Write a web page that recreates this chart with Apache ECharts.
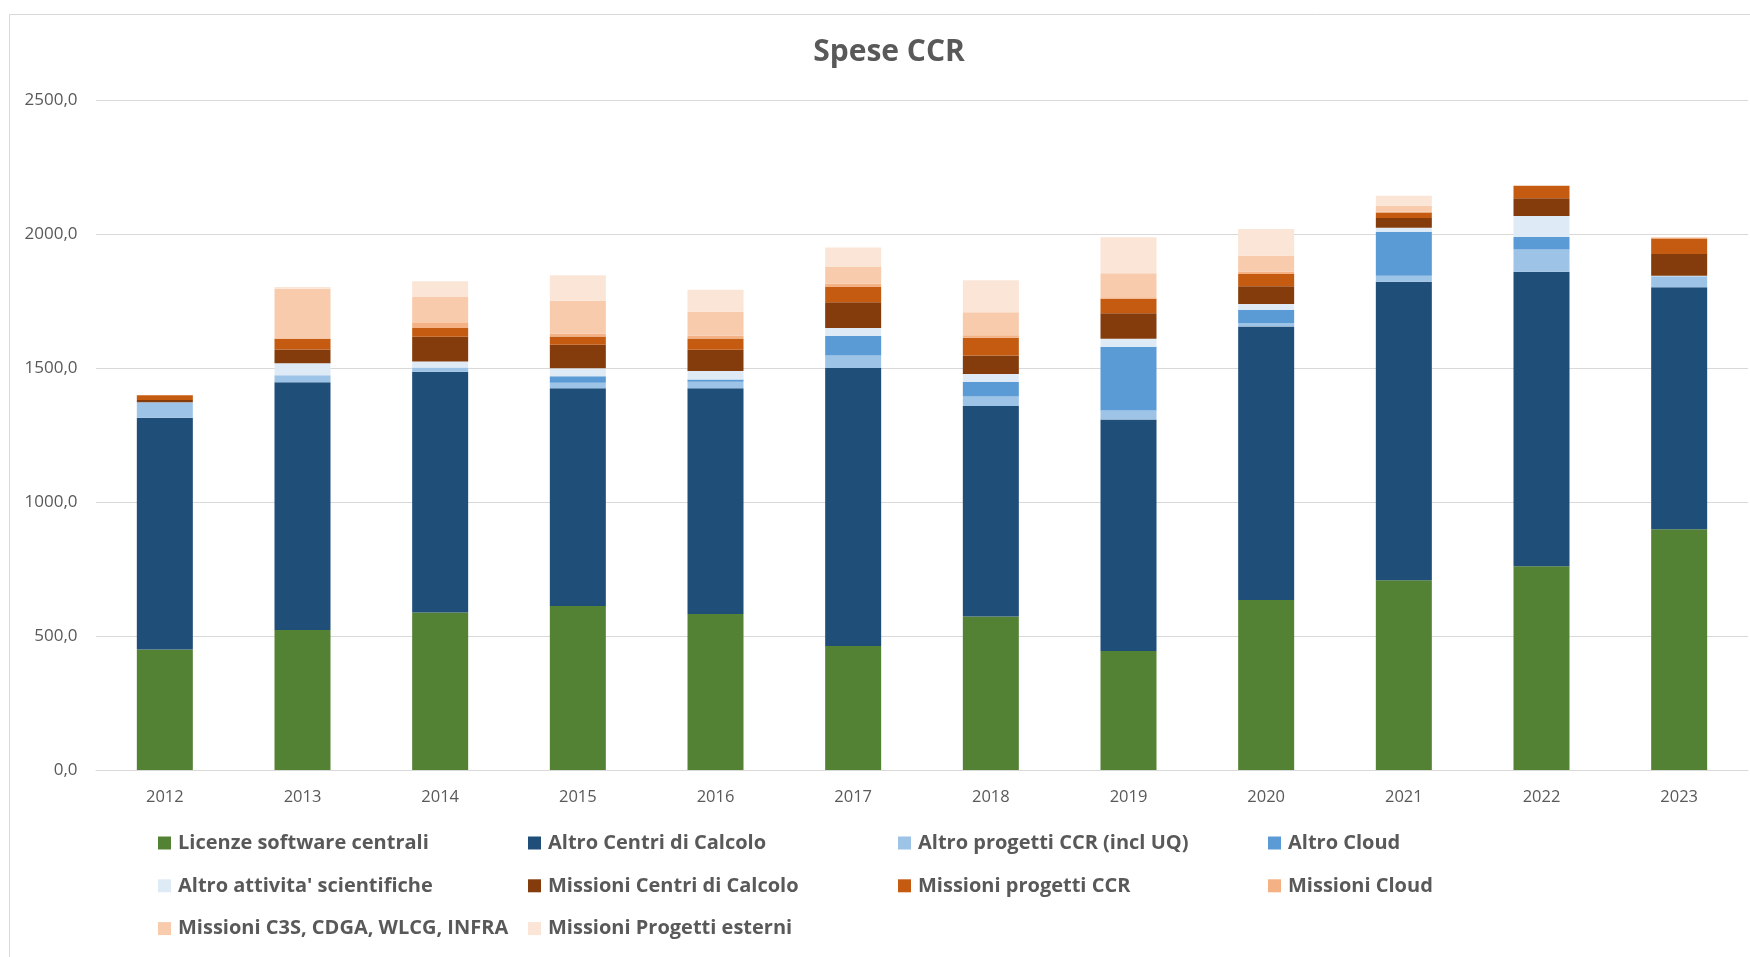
<!DOCTYPE html>
<html>
<head>
<meta charset="utf-8">
<script src="https://cdn.jsdelivr.net/npm/echarts@6/dist/echarts.min.js"></script>
<style>
html,body{margin:0;padding:0;background:#fff;}
#chart{width:1750px;height:957px;}
</style>
</head>
<body>
<div id="chart"></div>
<script>
const years = ['2012','2013','2014','2015','2016','2017','2018','2019','2020','2021','2022','2023'];
const licenze       = [450, 522, 588, 612, 582, 463, 573, 444, 634, 708, 760, 898];
const altroCentri   = [864, 925, 898, 812, 842, 1037, 785, 864, 1021, 1114, 1099, 903];
const altroProgetti = [58, 26, 16, 21, 25, 47, 36, 33, 12, 22, 83, 41];
const altroCloud    = [0, 0, 0, 24, 8, 72, 54, 238, 50, 164, 47, 0];
const altroAttivita = [0, 45, 22, 30, 32, 30, 30, 30, 22, 15, 78, 2];
const missCentri    = [9, 51, 93, 88, 79, 96, 69, 95, 66, 37, 66, 81];
const missProgetti  = [17, 40, 32, 31, 42, 57, 66, 54, 46, 20, 47, 58];
const missCloud     = [0, 2, 19, 10, 10, 12, 9, 6, 8, 4, 0, 4];
const missC3S       = [0, 185, 97, 123, 90, 65, 86, 90, 60, 21, 0, 0];
const missEsterni   = [0, 6, 59, 95, 82, 71, 119, 134, 100, 38, 0, 0];

const seriesDefs = [
  ['Licenze software centrali', licenze, '#548235'],
  ['Altro Centri di Calcolo', altroCentri, '#1F4E79'],
  ['Altro progetti CCR (incl UQ)', altroProgetti, '#9DC3E6'],
  ['Altro Cloud', altroCloud, '#5B9BD5'],
  ["Altro attivita' scientifiche", altroAttivita, '#DEEBF7'],
  ['Missioni Centri di Calcolo', missCentri, '#843C0C'],
  ['Missioni progetti CCR', missProgetti, '#C55A11'],
  ['Missioni Cloud', missCloud, '#F4B183'],
  ['Missioni C3S, CDGA, WLCG, INFRA', missC3S, '#F8CBAD'],
  ['Missioni Progetti esterni', missEsterni, '#FBE5D6']
];

const FONT = 'Open Sans, Liberation Sans, sans-serif';
const legendCols = [
  [0, 4, 8],
  [1, 5, 9],
  [2, 6],
  [3, 7]
];
const colX = [158, 528, 898, 1268];

const chart = echarts.init(document.getElementById('chart'), null, {renderer: 'canvas'});
const option = {
  animation: false,
  backgroundColor: '#ffffff',
  title: {
    text: 'Spese CCR',
    left: 889,
    textAlign: 'center',
    top: 37,
    padding: 0,
    textStyle: {fontFamily: FONT, fontSize: 30, fontWeight: 'bold', color: '#595959'}
  },
  graphic: [{
    type: 'rect',
    shape: {x: 9.5, y: 14.5, width: 1800, height: 1000},
    style: {fill: 'none', stroke: '#d9d9d9', lineWidth: 1},
    silent: true
  }],
  legend: legendCols.map((idxs, c) => ({
    orient: 'vertical',
    left: colX[c],
    top: 832,
    padding: 0,
    itemWidth: 13,
    itemHeight: 13,
    itemGap: 20.8,
    icon: 'rect',
    selectedMode: false,
    data: idxs.map(i => seriesDefs[i][0]),
    textStyle: {fontFamily: FONT, fontSize: 20, fontWeight: 'bold', color: '#595959', lineHeight: 22, padding: [0,0,0,2]}
  })),
  grid: {left: 96, right: 2, top: 100, bottom: 187, containLabel: false},
  xAxis: {
    type: 'category',
    data: years,
    axisLine: {show: true, lineStyle: {color: '#d9d9d9', width: 1}},
    axisTick: {show: false},
    axisLabel: {fontFamily: FONT, fontSize: 16.5, color: '#595959', margin: 19}
  },
  yAxis: {
    type: 'value',
    min: 0,
    max: 2500,
    interval: 500,
    axisLine: {show: false},
    axisTick: {show: false},
    splitLine: {lineStyle: {color: '#d9d9d9', width: 1}},
    axisLabel: {
      fontFamily: FONT, fontSize: 17, color: '#595959', margin: 18.5,
      formatter: v => v.toFixed(1).replace('.', ',')
    }
  },
  series: seriesDefs.map(([name, data, color]) => ({
    name: name,
    type: 'bar',
    stack: 'total',
    data: data,
    barWidth: 56,
    itemStyle: {color: color},
    emphasis: {disabled: true}
  }))
};
chart.setOption(option);
</script>
</body>
</html>
